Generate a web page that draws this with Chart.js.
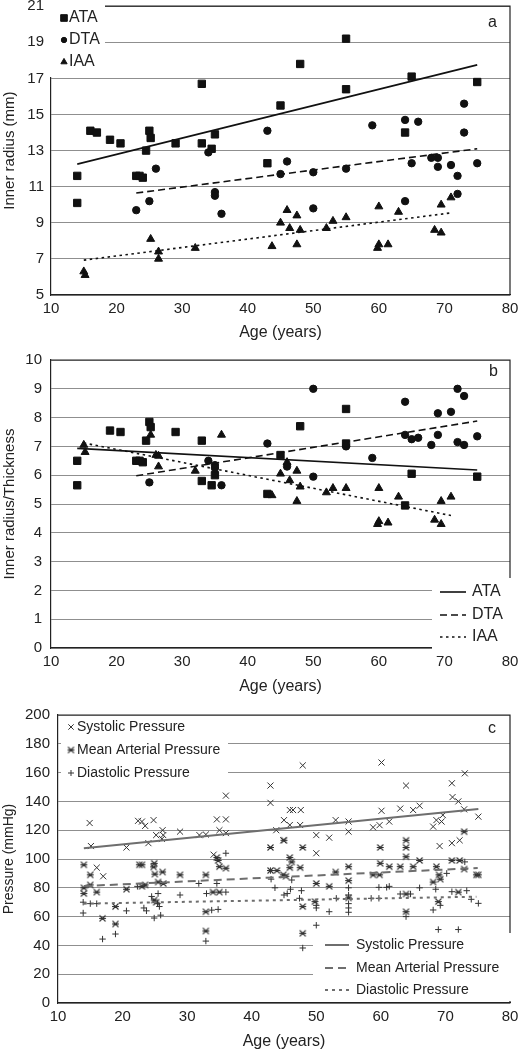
<!DOCTYPE html>
<html>
<head>
<meta charset="utf-8">
<script src="https://cdn.jsdelivr.net/npm/chart.js@4"></script>
<style>
  body { margin: 0; background: #fff; }
  #wrap { position: relative; width: 519px; height: 1050px; }
  canvas { position: absolute; left: 0; }
</style>
</head>
<body>
<div id="wrap">
  <canvas id="pa" width="519" height="345" style="top:0"></canvas>
  <canvas id="pb" width="519" height="355" style="top:345px"></canvas>
  <canvas id="pc" width="519" height="350" style="top:700px"></canvas>
</div>
<script>
// ---- panel a: inner radius (mm) ----
const ataAgeA = [14,14,16,17,19,20.6,23,23.5,24,24.5,25,25.2,29,33,33,34.5,35,43,45,48,55,55,64,65,75];
const ataRadius = [11.6,10.1,14.1,14.0,13.6,13.4,11.6,11.6,11.5,13.0,14.1,13.7,13.4,16.7,13.4,13.1,13.9,12.3,15.5,17.8,19.2,16.4,14.0,17.1,16.8];
const dtaAgeA = [23,25,26,34,35,35,36,43,45,46,50,50,55,59,64,64,65,66,68,69,69,71,72,72,73,73,75];
const dtaRadius = [9.7,10.2,12.0,12.9,10.7,10.5,9.5,14.1,11.7,12.4,11.8,9.8,12.0,14.4,14.7,10.2,12.3,14.6,12.6,12.6,12.1,12.2,11.6,10.6,15.6,14.0,12.3];
const iaaAgeA = [15,15.2,25.2,26.4,26.4,32,43.7,45,46,46.4,47.5,47.5,48,52,53,55,60,60,59.8,61.4,63,68.5,69.5,69.5,71];
const iaaRadius = [6.3,6.1,8.1,7.4,7.0,7.6,7.7,9.0,9.7,8.7,9.4,7.8,8.6,8.7,9.1,9.3,9.9,7.8,7.6,7.8,9.6,8.6,10.0,8.45,10.4];
const trendAgeA = { ata: [14, 75], dta: [23, 75], iaa: [15, 71] };
const trendRadius = { ata: [12.25, 17.75], dta: [10.65, 13.1], iaa: [6.93, 9.55] };

// ---- panel b: inner radius / thickness ----
const ataAgeB = [14,14,19,20.6,23,23.5,24,24.5,25,25.2,29,33,33,34.5,35,43,45,48,55,55,64,65,75];
const ataRatio = [6.5,5.65,7.55,7.5,6.5,6.5,6.45,7.2,7.85,7.67,7.5,7.2,5.8,5.65,6.0,5.35,6.7,7.7,8.3,7.1,4.95,6.05,5.95];
const dtaAgeB = [25,34,35,35,36,43,46,50,50,55,59,64,64,65,66,68,69,69,71,72,72,73,73,75];
const dtaRatio = [5.75,6.5,6.35,6.25,5.65,7.1,6.3,9.0,5.95,7.0,6.6,8.55,7.4,7.25,7.3,7.05,8.15,7.4,8.2,9.0,7.15,8.75,7.05,7.35];
const iaaAgeB = [15,15.2,25.2,26,26.4,26.4,32,36,43.7,45,46,46.4,47.5,47.5,48,52,53,55,60,60,59.8,61.4,63,68.5,69.5,69.5,71];
const iaaRatio = [7.05,6.8,7.4,6.7,6.67,6.3,6.15,7.4,5.3,6.05,6.45,5.82,6.15,5.1,5.6,5.4,5.55,5.55,5.55,4.4,4.3,4.35,5.25,4.45,4.3,5.1,5.25];
const trendAgeB = { ata: [14, 75], dta: [23, 75], iaa: [15, 71] };
const trendRatio = { ata: [6.93, 6.18], dta: [5.98, 7.88], iaa: [7.12, 4.6] };

// ---- panel c: pressure (mmHg) ----
const sysAge = [14.9,15.1,16,17,20.6,22.4,23,23.5,24,24.8,25.2,26.1,26.2,26.3,28.9,31.9,32.9,34.1,34.6,35,36,36,36,42.9,42.9,43.8,44.9,45,45.9,46.4,45.9,47.6,47.9,47.5,50,50,52,53,55,55,58.8,59.8,60.1,60.1,61.3,63,63.9,65,66,68.1,68.6,69.1,69.4,69.6,71,71.1,72,73,72.9,71,72.2,75.1];
const sysP = [125,109,94,88,108,126.5,126,123,111,127,116.6,114,120,116.6,119,116.6,117,103,127.5,120,127.5,144,118,151,139,120,113,127,134,134,123.6,134,165,123.6,116.6,104,114.8,127,126,119,122,123.5,167,133.5,126,135,151,134,137,122.5,127,109,126,130.5,152.6,143,140,159.5,134.5,111,113,129.4];
const mapAge = [14,14,14,15,15,16,16.9,18.9,18.9,20.6,22.6,23,23,23.5,24.8,24.9,25,24.9,25.2,25.5,26.2,26.3,28.9,32.9,32.9,32.9,34,34.6,34.8,35,35,36,42.9,42.9,43.9,45,44.9,45.3,45.9,46.2,45.9,47.9,47.5,47.9,47.9,49.8,50,52,53,55,55,55,58.8,59.8,59.9,59.9,61.3,63,63.9,63.9,63.9,63.9,63.9,65,66,68.1,68.6,69,69.2,68.9,71,72.2,72.9,72.9,72,74.8,75.1];
const mapP = [96,80,76,89,82,77,58.8,54.9,67,79,96,96,81,82,94.5,97,89.5,71.5,70,84,91,83,89,89,63.4,50,77,101,99,94.7,77,93.6,108,92,92,113,89,88,101,98,94,108,94,67,48.4,70.4,83,81,91,94.7,85,73,89,89,108,97,94.7,94.7,113,108,101.6,75.7,63.4,94.7,99,84,94.7,89,86,70.4,99,99,119,93,77,89,89];
const diaAge = [13.9,13.9,15,16,16.9,18.9,20.6,22.3,23.3,23.7,24.5,25.5,25.4,25.7,25.9,24.9,28.9,31.8,33.8,34.8,32.9,33,36,34.6,36,42.9,43,43.6,45,45.5,46.2,46,47.7,47.4,50,50,52,50,47.9,53.1,55,55,55,55,55,58.5,59.7,59.7,60.9,61.3,63,64.6,63.9,66,68.1,69.2,68.9,72,68.5,70.2,71,73.3,73,74,75.1];
const diaP = [70,62.5,69,69,44.4,47.9,64,81,66,64,74,76,69,67,61,59,75,83,64.5,65,43,76,77,83,104,92,86,80,75,76,85.4,79,78,72.7,67.8,66,63.4,54,38.2,72.7,80,75,69,66,63,72.7,72.7,80.3,80.3,81,75.7,75.7,60,80,64.6,67.8,51,51,79,90,77.3,78,98,72,69.2];
const trendAgeC = { sys: [14, 75.1], map: [14, 75], dia: [14, 74.8] };
const trendP = { sys: [107.4, 134.7], map: [81.2, 93.7], dia: [69, 73.8] };

const TICK_FONT = { family: "'Liberation Sans', Arial, sans-serif", size: 15, lineHeight: 1 };
Chart.defaults.font.family = "'Liberation Sans', Arial, sans-serif";
Chart.defaults.color = '#222';

const pts = (xs, ys) => xs.map((x, i) => ({ x, y: ys[i] }));

function markers(label, xs, ys, style, r) {
  return { label, data: pts(xs, ys), pointStyle: style, pointRadius: r,
    backgroundColor: '#111', borderColor: '#111', borderWidth: 1, showLine: false };
}
function trend(label, xs, ys, dash, color, w) {
  return { type: 'line', label, data: pts(xs, ys), borderColor: color, borderWidth: w,
    borderDash: dash, pointRadius: 0, fill: false, order: -1 };
}
function crossMarks(label, xs, ys, style, r) {
  return { label, data: pts(xs, ys), pointStyle: style, pointRadius: r,
    backgroundColor: '#333', borderColor: '#333', borderWidth: 1, showLine: false };
}

// "⋇" style for mean arterial pressure
function mapMark() {
  const c = document.createElement('canvas');
  c.width = c.height = 9;
  const g = c.getContext('2d');
  g.strokeStyle = '#333'; g.lineWidth = 1.1;
  g.beginPath();
  g.moveTo(1.5, 1.5); g.lineTo(7.5, 7.5);
  g.moveTo(7.5, 1.5); g.lineTo(1.5, 7.5);
  g.moveTo(1, 4.5); g.lineTo(8, 4.5);
  g.stroke();
  return c;
}

// frame, white legend boxes and panel letter
const decor = {
  id: 'decor',
  afterDraw(chart, args, o) {
    const { ctx, chartArea: a } = chart;
    ctx.save();
    ctx.strokeStyle = '#222'; ctx.lineWidth = 1.2;
    ctx.beginPath();
    ctx.moveTo(a.left, a.top); ctx.lineTo(a.right, a.top); ctx.lineTo(a.right, a.bottom);
    ctx.stroke();
    (o.boxes || []).forEach(b => {
      ctx.fillStyle = '#fff';
      ctx.fillRect(b.x, b.y, b.w, b.h);
      b.items.forEach((idx, i) => {
        const ds = chart.data.datasets[idx];
        const y = b.ys[i];
        ctx.save();
        if (b.kind === 'marker') {
          ctx.fillStyle = ds.backgroundColor; ctx.strokeStyle = ds.borderColor; ctx.lineWidth = 1;
          Chart.helpers.drawPoint(ctx, { pointStyle: ds.pointStyle, radius: b.r[i], borderWidth: 1, rotation: 0 }, b.sx, y);
        } else {
          ctx.strokeStyle = ds.borderColor; ctx.lineWidth = ds.borderWidth;
          ctx.setLineDash(ds.borderDash || []);
          ctx.beginPath(); ctx.moveTo(b.sx[0], y); ctx.lineTo(b.sx[1], y); ctx.stroke();
        }
        ctx.restore();
        ctx.fillStyle = '#222';
        ctx.font = b.font;
        ctx.textBaseline = 'middle';
        ctx.fillText(ds.label, b.tx, y);
      });
    });
    ctx.fillStyle = '#222';
    ctx.font = "16px 'Liberation Sans', Arial";
    ctx.textBaseline = 'middle';
    ctx.fillText(o.letter, o.lx, o.ly);
    ctx.restore();
  }
};

function panel(id, o) {
  return new Chart(document.getElementById(id), {
    type: 'scatter',
    data: { datasets: o.datasets },
    options: {
      responsive: false, animation: false, events: [],
      layout: { padding: { left: 0, right: 9, top: o.top, bottom: 0 } },
      plugins: { legend: { display: false }, tooltip: { enabled: false }, decor: o.decor },
      scales: {
        x: {
          type: 'linear', min: 10, max: 80,
          ticks: { stepSize: 10, padding: o.xTickPad, color: '#222', font: TICK_FONT },
          grid: { display: false, drawTicks: false },
          border: { color: '#222', width: 1.2 },
          title: { display: true, text: 'Age (years)', color: '#222', font: { size: 16, lineHeight: 1 },
                   padding: { top: 0, bottom: o.xTitlePad } },
          afterFit: s => { s.height = o.xH; s.paddingLeft = 0; s.paddingRight = 0; }
        },
        y: {
          min: o.yMin, max: o.yMax,
          ticks: { stepSize: o.yStep, padding: o.yTickPad, color: '#222', font: TICK_FONT },
          grid: { color: '#8f8f8f', lineWidth: 1, drawTicks: false },
          border: { color: '#222', width: 1.2 },
          title: { display: true, text: o.yTitle, color: '#222', font: { size: o.yTitleSize, lineHeight: 1 },
                   padding: { top: 2, bottom: 0 } },
          afterFit: s => { s.width = o.left; s.paddingTop = 0; s.paddingBottom = 0; }
        }
      }
    },
    plugins: [decor]
  });
}

panel('pa', {
  top: 5, left: 51, xH: 50, xTickPad: 6, xTitlePad: 4, yTickPad: 7,
  yMin: 5, yMax: 21, yStep: 2, yTitle: 'Inner radius (mm)', yTitleSize: 15,
  datasets: [
    markers('ATA', ataAgeA, ataRadius, 'rect', 5.2),
    markers('DTA', dtaAgeA, dtaRadius, 'circle', 3.7),
    markers('IAA', iaaAgeA, iaaRadius, 'triangle', 4.6),
    trend('ATA', trendAgeA.ata, trendRadius.ata, [], '#111', 1.6),
    trend('DTA', trendAgeA.dta, trendRadius.dta, [7, 4], '#111', 1.6),
    trend('IAA', trendAgeA.iaa, trendRadius.iaa, [2.5, 3.5], '#111', 1.6)
  ],
  decor: {
    letter: 'a', lx: 488, ly: 23,
    boxes: [{ kind: 'marker', x: 50, y: 0, w: 55, h: 77, items: [0, 1, 2], ys: [18, 40, 62],
              r: [4.7, 2.7, 3.6], sx: 64, tx: 69, font: "16px 'Liberation Sans', Arial" }]
  }
});

panel('pb', {
  top: 15, left: 51, xH: 52, xTickPad: 6, xTitlePad: 5, yTickPad: 9,
  yMin: 0, yMax: 10, yStep: 1, yTitle: 'Inner radius/Thickness', yTitleSize: 15,
  datasets: [
    markers('ATA', ataAgeB, ataRatio, 'rect', 5.2),
    markers('DTA', dtaAgeB, dtaRatio, 'circle', 3.7),
    markers('IAA', iaaAgeB, iaaRatio, 'triangle', 4.6),
    trend('ATA', trendAgeB.ata, trendRatio.ata, [], '#111', 1.6),
    trend('DTA', trendAgeB.dta, trendRatio.dta, [7, 4], '#111', 1.6),
    trend('IAA', trendAgeB.iaa, trendRatio.iaa, [2.5, 3.5], '#111', 1.6)
  ],
  decor: {
    letter: 'b', lx: 489, ly: 27,
    boxes: [{ kind: 'line', x: 432, y: 233, w: 87, h: 77, items: [3, 4, 5], ys: [247, 270, 292],
              sx: [440, 466], tx: 472, font: "16px 'Liberation Sans', Arial" }]
  }
});

const mapStyle = mapMark();
panel('pc', {
  top: 15, left: 58, xH: 47, xTickPad: 6, xTitlePad: 0, yTickPad: 8,
  yMin: 0, yMax: 200, yStep: 20, yTitle: 'Pressure (mmHg)', yTitleSize: 14,
  datasets: [
    crossMarks('Systolic Pressure', sysAge, sysP, 'crossRot', 4.3),
    crossMarks('Mean Arterial Pressure', mapAge, mapP, mapStyle, 4),
    crossMarks('Diastolic Pressure', diaAge, diaP, 'cross', 3.2),
    trend('Systolic Pressure', trendAgeC.sys, trendP.sys, [], '#6e6e6e', 2),
    trend('Mean Arterial Pressure', trendAgeC.map, trendP.map, [8, 5], '#6e6e6e', 2),
    trend('Diastolic Pressure', trendAgeC.dia, trendP.dia, [3, 4], '#6e6e6e', 2)
  ],
  decor: {
    letter: 'c', lx: 488, ly: 29,
    boxes: [
      { kind: 'marker', x: 61, y: 17, w: 167, h: 67, items: [0, 1, 2], ys: [27, 50, 73],
        r: [3.8, 4, 3], sx: 71, tx: 77, font: "14px 'Liberation Sans', Arial" },
      { kind: 'line', x: 313, y: 233, w: 206, h: 68, items: [3, 4, 5], ys: [245, 268, 290],
        sx: [325, 349], tx: 356, font: "14px 'Liberation Sans', Arial" }
    ]
  }
});
</script>
</body>
</html>
